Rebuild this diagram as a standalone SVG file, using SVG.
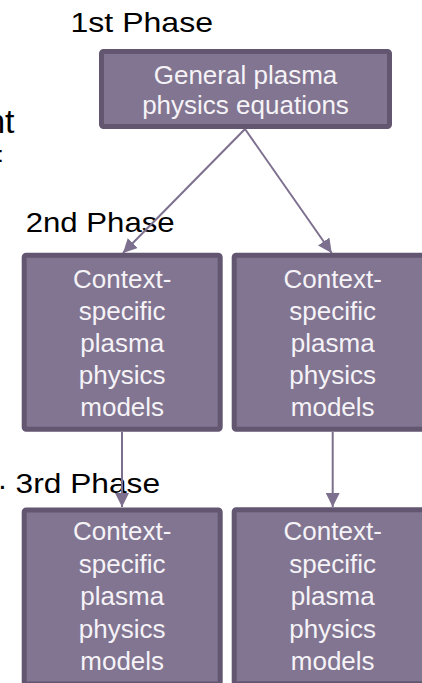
<svg xmlns="http://www.w3.org/2000/svg" width="422" height="683" viewBox="0 0 422 683">
  <style>
    .box { fill: #827591; stroke: #635670; stroke-width: 5; }
    .bt { font-family: "Liberation Sans", Arial, sans-serif; font-size: 26px; fill: #f5f3f7; text-anchor: middle; }
    .title { font-family: "Liberation Sans", Arial, sans-serif; font-size: 27.5px; fill: #000000; }
    .conn { stroke: #7d6f8e; stroke-width: 2; fill: none; marker-end: url(#arrow); }
  </style>
  <defs>
    <marker id="arrow" viewBox="0 0 14 14" markerWidth="14" markerHeight="14" refX="14" refY="7" orient="auto" markerUnits="userSpaceOnUse">
      <path d="M0,0 L14,7 L0,14 z" fill="#7d6f8e"/>
    </marker>
  </defs>
  <rect width="422" height="683" fill="#ffffff"/>

  <g id="fragments">
    <text class="title" x="14.5" y="133" font-size="34" text-anchor="end" style="font-size:34px">nt</text>
    <text class="title" x="3.5" y="162" style="font-size:22px" text-anchor="end">:</text>
    <text class="title" x="-1.7" y="489" style="font-size:30px">.</text>
  </g>

  <g id="titles">
    <text class="title" x="70.5" y="31.7" textLength="142.5" lengthAdjust="spacingAndGlyphs">1st Phase</text>
    <text class="title" x="25.7" y="231.7" textLength="149" lengthAdjust="spacingAndGlyphs">2nd Phase</text>
    <text class="title" x="15.6" y="493" textLength="144.5" lengthAdjust="spacingAndGlyphs">3rd Phase</text>
  </g>

  <g id="connectors">
    <line class="conn" x1="245" y1="129" x2="123" y2="253"/>
    <line class="conn" x1="245" y1="129" x2="331.7" y2="253"/>
    <line class="conn" x1="122" y1="432" x2="122" y2="507"/>
    <line class="conn" x1="332.7" y1="432" x2="332.7" y2="507"/>
  </g>

  <g id="node-general">
    <rect class="box" x="101.5" y="51.5" width="288" height="75" rx="2"/>
    <text class="bt" x="245.5" y="84">General plasma</text>
    <text class="bt" x="245.5" y="114">physics equations</text>
  </g>

  <g id="node-phase2-left">
    <rect class="box" x="24.2" y="255.2" width="196" height="174" rx="2"/>
    <text class="bt" x="122.2" y="287.7">Context-</text>
    <text class="bt" x="122.2" y="319.7">specific</text>
    <text class="bt" x="122.2" y="351.7">plasma</text>
    <text class="bt" x="122.2" y="383.7">physics</text>
    <text class="bt" x="122.2" y="415.7">models</text>
  </g>

  <g id="node-phase2-right">
    <rect class="box" x="234.2" y="255.2" width="197" height="174" rx="2"/>
    <text class="bt" x="332.7" y="287.7">Context-</text>
    <text class="bt" x="332.7" y="319.7">specific</text>
    <text class="bt" x="332.7" y="351.7">plasma</text>
    <text class="bt" x="332.7" y="383.7">physics</text>
    <text class="bt" x="332.7" y="415.7">models</text>
  </g>

  <g id="node-phase3-left">
    <rect class="box" x="24.2" y="510" width="196" height="174" rx="2"/>
    <text class="bt" x="122.2" y="540">Context-</text>
    <text class="bt" x="122.2" y="572.5">specific</text>
    <text class="bt" x="122.2" y="605">plasma</text>
    <text class="bt" x="122.2" y="637.5">physics</text>
    <text class="bt" x="122.2" y="670">models</text>
  </g>

  <g id="node-phase3-right">
    <rect class="box" x="234.2" y="509.8" width="197" height="174" rx="2"/>
    <text class="bt" x="332.7" y="540">Context-</text>
    <text class="bt" x="332.7" y="572.5">specific</text>
    <text class="bt" x="332.7" y="605">plasma</text>
    <text class="bt" x="332.7" y="637.5">physics</text>
    <text class="bt" x="332.7" y="670">models</text>
  </g>
</svg>
